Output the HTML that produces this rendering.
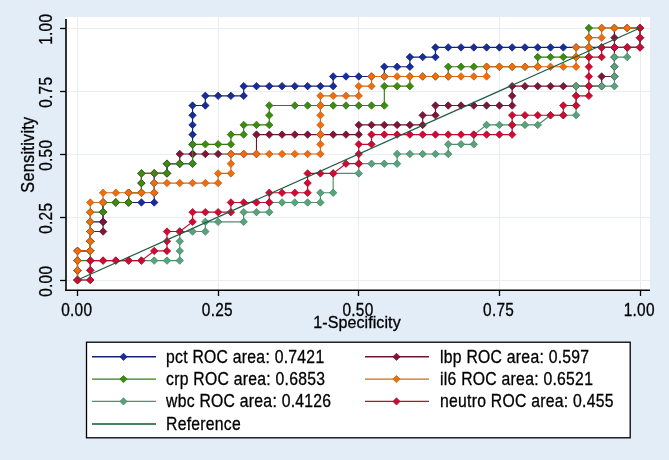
<!DOCTYPE html>
<html><head><meta charset="utf-8"><style>
html,body{margin:0;padding:0;background:#E3EDF8;}
body{width:669px;height:460px;overflow:hidden;}
svg{display:block;font-family:"Liberation Sans",sans-serif;will-change:transform;}
text{fill:#000;stroke:#000;stroke-width:0.3px;}
</style></head><body>
<svg width="669" height="460" viewBox="0 0 669 460"><rect x="0" y="0" width="669" height="460" fill="#E3EDF8"/><rect x="65.5" y="17" width="584.5" height="273.5" fill="#FFFFFF"/><line x1="65.5" y1="280.5" x2="650" y2="280.5" stroke="#E8EEF3" stroke-width="1"/><line x1="77.5" y1="17" x2="77.5" y2="290.5" stroke="#E8EEF3" stroke-width="1"/><line x1="65.5" y1="217.5" x2="650" y2="217.5" stroke="#E8EEF3" stroke-width="1"/><line x1="218.5" y1="17" x2="218.5" y2="290.5" stroke="#E8EEF3" stroke-width="1"/><line x1="65.5" y1="154.5" x2="650" y2="154.5" stroke="#E8EEF3" stroke-width="1"/><line x1="358.5" y1="17" x2="358.5" y2="290.5" stroke="#E8EEF3" stroke-width="1"/><line x1="65.5" y1="91.5" x2="650" y2="91.5" stroke="#E8EEF3" stroke-width="1"/><line x1="499.5" y1="17" x2="499.5" y2="290.5" stroke="#E8EEF3" stroke-width="1"/><line x1="65.5" y1="28.5" x2="650" y2="28.5" stroke="#E8EEF3" stroke-width="1"/><line x1="640.5" y1="17" x2="640.5" y2="290.5" stroke="#E8EEF3" stroke-width="1"/><path d="M77.50,280.00 L77.50,270.31 L77.50,260.62 L77.50,250.92 L90.28,250.92 L90.28,241.23 L90.28,231.54 L90.28,221.85 L103.07,221.85 L103.07,212.15 L103.07,202.46 L115.85,202.46 L128.64,202.46 L141.42,202.46 L154.20,202.46 L154.20,192.77 L154.20,183.08 L154.20,173.38 L166.99,173.38 L166.99,163.69 L179.77,163.69 L192.56,163.69 L192.56,154.00 L192.56,144.31 L192.56,134.62 L192.56,124.92 L192.56,115.23 L192.56,105.54 L205.34,105.54 L205.34,95.85 L218.12,95.85 L230.91,95.85 L243.69,95.85 L243.69,86.15 L256.48,86.15 L269.26,86.15 L282.05,86.15 L294.83,86.15 L307.61,86.15 L320.40,86.15 L333.18,86.15 L333.18,76.46 L345.97,76.46 L358.75,76.46 L371.53,76.46 L384.32,76.46 L384.32,66.77 L397.10,66.77 L409.89,66.77 L409.89,57.08 L422.67,57.08 L435.45,57.08 L435.45,47.38 L448.24,47.38 L461.02,47.38 L473.81,47.38 L486.59,47.38 L499.38,47.38 L512.16,47.38 L524.94,47.38 L537.73,47.38 L550.51,47.38 L563.30,47.38 L576.08,47.38 L588.86,47.38 L601.65,47.38 L614.43,47.38 L627.22,47.38 L640.00,47.38 L640.00,37.69 L640.00,28.00" fill="none" stroke="#12227A" stroke-width="1.15" stroke-linejoin="round"/><path d="M77.50,276.25l3.75,3.75l-3.75,3.75l-3.75,-3.75zM77.50,266.56l3.75,3.75l-3.75,3.75l-3.75,-3.75zM77.50,256.87l3.75,3.75l-3.75,3.75l-3.75,-3.75zM77.50,247.17l3.75,3.75l-3.75,3.75l-3.75,-3.75zM90.28,247.17l3.75,3.75l-3.75,3.75l-3.75,-3.75zM90.28,237.48l3.75,3.75l-3.75,3.75l-3.75,-3.75zM90.28,227.79l3.75,3.75l-3.75,3.75l-3.75,-3.75zM90.28,218.10l3.75,3.75l-3.75,3.75l-3.75,-3.75zM103.07,218.10l3.75,3.75l-3.75,3.75l-3.75,-3.75zM103.07,208.40l3.75,3.75l-3.75,3.75l-3.75,-3.75zM103.07,198.71l3.75,3.75l-3.75,3.75l-3.75,-3.75zM115.85,198.71l3.75,3.75l-3.75,3.75l-3.75,-3.75zM128.64,198.71l3.75,3.75l-3.75,3.75l-3.75,-3.75zM141.42,198.71l3.75,3.75l-3.75,3.75l-3.75,-3.75zM154.20,198.71l3.75,3.75l-3.75,3.75l-3.75,-3.75zM154.20,189.02l3.75,3.75l-3.75,3.75l-3.75,-3.75zM154.20,179.33l3.75,3.75l-3.75,3.75l-3.75,-3.75zM154.20,169.63l3.75,3.75l-3.75,3.75l-3.75,-3.75zM166.99,169.63l3.75,3.75l-3.75,3.75l-3.75,-3.75zM166.99,159.94l3.75,3.75l-3.75,3.75l-3.75,-3.75zM179.77,159.94l3.75,3.75l-3.75,3.75l-3.75,-3.75zM192.56,159.94l3.75,3.75l-3.75,3.75l-3.75,-3.75zM192.56,150.25l3.75,3.75l-3.75,3.75l-3.75,-3.75zM192.56,140.56l3.75,3.75l-3.75,3.75l-3.75,-3.75zM192.56,130.87l3.75,3.75l-3.75,3.75l-3.75,-3.75zM192.56,121.17l3.75,3.75l-3.75,3.75l-3.75,-3.75zM192.56,111.48l3.75,3.75l-3.75,3.75l-3.75,-3.75zM192.56,101.79l3.75,3.75l-3.75,3.75l-3.75,-3.75zM205.34,101.79l3.75,3.75l-3.75,3.75l-3.75,-3.75zM205.34,92.10l3.75,3.75l-3.75,3.75l-3.75,-3.75zM218.12,92.10l3.75,3.75l-3.75,3.75l-3.75,-3.75zM230.91,92.10l3.75,3.75l-3.75,3.75l-3.75,-3.75zM243.69,92.10l3.75,3.75l-3.75,3.75l-3.75,-3.75zM243.69,82.40l3.75,3.75l-3.75,3.75l-3.75,-3.75zM256.48,82.40l3.75,3.75l-3.75,3.75l-3.75,-3.75zM269.26,82.40l3.75,3.75l-3.75,3.75l-3.75,-3.75zM282.05,82.40l3.75,3.75l-3.75,3.75l-3.75,-3.75zM294.83,82.40l3.75,3.75l-3.75,3.75l-3.75,-3.75zM307.61,82.40l3.75,3.75l-3.75,3.75l-3.75,-3.75zM320.40,82.40l3.75,3.75l-3.75,3.75l-3.75,-3.75zM333.18,82.40l3.75,3.75l-3.75,3.75l-3.75,-3.75zM333.18,72.71l3.75,3.75l-3.75,3.75l-3.75,-3.75zM345.97,72.71l3.75,3.75l-3.75,3.75l-3.75,-3.75zM358.75,72.71l3.75,3.75l-3.75,3.75l-3.75,-3.75zM371.53,72.71l3.75,3.75l-3.75,3.75l-3.75,-3.75zM384.32,72.71l3.75,3.75l-3.75,3.75l-3.75,-3.75zM384.32,63.02l3.75,3.75l-3.75,3.75l-3.75,-3.75zM397.10,63.02l3.75,3.75l-3.75,3.75l-3.75,-3.75zM409.89,63.02l3.75,3.75l-3.75,3.75l-3.75,-3.75zM409.89,53.33l3.75,3.75l-3.75,3.75l-3.75,-3.75zM422.67,53.33l3.75,3.75l-3.75,3.75l-3.75,-3.75zM435.45,53.33l3.75,3.75l-3.75,3.75l-3.75,-3.75zM435.45,43.63l3.75,3.75l-3.75,3.75l-3.75,-3.75zM448.24,43.63l3.75,3.75l-3.75,3.75l-3.75,-3.75zM461.02,43.63l3.75,3.75l-3.75,3.75l-3.75,-3.75zM473.81,43.63l3.75,3.75l-3.75,3.75l-3.75,-3.75zM486.59,43.63l3.75,3.75l-3.75,3.75l-3.75,-3.75zM499.38,43.63l3.75,3.75l-3.75,3.75l-3.75,-3.75zM512.16,43.63l3.75,3.75l-3.75,3.75l-3.75,-3.75zM524.94,43.63l3.75,3.75l-3.75,3.75l-3.75,-3.75zM537.73,43.63l3.75,3.75l-3.75,3.75l-3.75,-3.75zM550.51,43.63l3.75,3.75l-3.75,3.75l-3.75,-3.75zM563.30,43.63l3.75,3.75l-3.75,3.75l-3.75,-3.75zM576.08,43.63l3.75,3.75l-3.75,3.75l-3.75,-3.75zM588.86,43.63l3.75,3.75l-3.75,3.75l-3.75,-3.75zM601.65,43.63l3.75,3.75l-3.75,3.75l-3.75,-3.75zM614.43,43.63l3.75,3.75l-3.75,3.75l-3.75,-3.75zM627.22,43.63l3.75,3.75l-3.75,3.75l-3.75,-3.75zM640.00,43.63l3.75,3.75l-3.75,3.75l-3.75,-3.75zM640.00,33.94l3.75,3.75l-3.75,3.75l-3.75,-3.75zM640.00,24.25l3.75,3.75l-3.75,3.75l-3.75,-3.75z" fill="#162E96" stroke="#0E1C70" stroke-width="0.7"/><path d="M77.50,280.00 L77.50,270.31 L77.50,260.62 L77.50,250.92 L90.28,250.92 L90.28,250.92 L90.28,241.23 L90.28,231.54 L103.07,231.54 L103.07,221.85 L103.07,212.15 L103.07,202.46 L115.85,202.46 L128.64,202.46 L128.64,192.77 L141.42,192.77 L141.42,183.08 L141.42,173.38 L154.20,173.38 L166.99,173.38 L166.99,163.69 L179.77,163.69 L179.77,154.00 L192.56,154.00 L205.34,154.00 L218.12,154.00 L230.91,154.00 L243.69,154.00 L256.48,154.00 L256.48,134.62 L269.26,134.62 L282.05,134.62 L294.83,134.62 L307.61,134.62 L320.40,134.62 L333.18,134.62 L345.97,134.62 L358.75,134.62 L358.75,124.92 L371.53,124.92 L384.32,124.92 L397.10,124.92 L409.89,124.92 L422.67,124.92 L422.67,115.23 L435.45,115.23 L435.45,105.54 L448.24,105.54 L461.02,105.54 L473.81,105.54 L486.59,105.54 L499.38,105.54 L512.16,105.54 L512.16,95.85 L512.16,86.15 L524.94,86.15 L537.73,86.15 L550.51,86.15 L563.30,86.15 L576.08,86.15 L588.86,86.15 L601.65,86.15 L601.65,76.46 L614.43,76.46 L614.43,66.77 L614.43,57.08 L614.43,47.38 L614.43,37.69 L614.43,28.00 L627.22,28.00 L640.00,28.00" fill="none" stroke="#701434" stroke-width="1.15" stroke-linejoin="round"/><path d="M77.50,276.25l3.75,3.75l-3.75,3.75l-3.75,-3.75zM77.50,266.56l3.75,3.75l-3.75,3.75l-3.75,-3.75zM77.50,256.87l3.75,3.75l-3.75,3.75l-3.75,-3.75zM77.50,247.17l3.75,3.75l-3.75,3.75l-3.75,-3.75zM90.28,247.17l3.75,3.75l-3.75,3.75l-3.75,-3.75zM90.28,247.17l3.75,3.75l-3.75,3.75l-3.75,-3.75zM90.28,237.48l3.75,3.75l-3.75,3.75l-3.75,-3.75zM90.28,227.79l3.75,3.75l-3.75,3.75l-3.75,-3.75zM103.07,227.79l3.75,3.75l-3.75,3.75l-3.75,-3.75zM103.07,218.10l3.75,3.75l-3.75,3.75l-3.75,-3.75zM103.07,208.40l3.75,3.75l-3.75,3.75l-3.75,-3.75zM103.07,198.71l3.75,3.75l-3.75,3.75l-3.75,-3.75zM115.85,198.71l3.75,3.75l-3.75,3.75l-3.75,-3.75zM128.64,198.71l3.75,3.75l-3.75,3.75l-3.75,-3.75zM128.64,189.02l3.75,3.75l-3.75,3.75l-3.75,-3.75zM141.42,189.02l3.75,3.75l-3.75,3.75l-3.75,-3.75zM141.42,179.33l3.75,3.75l-3.75,3.75l-3.75,-3.75zM141.42,169.63l3.75,3.75l-3.75,3.75l-3.75,-3.75zM154.20,169.63l3.75,3.75l-3.75,3.75l-3.75,-3.75zM166.99,169.63l3.75,3.75l-3.75,3.75l-3.75,-3.75zM166.99,159.94l3.75,3.75l-3.75,3.75l-3.75,-3.75zM179.77,159.94l3.75,3.75l-3.75,3.75l-3.75,-3.75zM179.77,150.25l3.75,3.75l-3.75,3.75l-3.75,-3.75zM192.56,150.25l3.75,3.75l-3.75,3.75l-3.75,-3.75zM205.34,150.25l3.75,3.75l-3.75,3.75l-3.75,-3.75zM218.12,150.25l3.75,3.75l-3.75,3.75l-3.75,-3.75zM230.91,150.25l3.75,3.75l-3.75,3.75l-3.75,-3.75zM243.69,150.25l3.75,3.75l-3.75,3.75l-3.75,-3.75zM256.48,150.25l3.75,3.75l-3.75,3.75l-3.75,-3.75zM256.48,130.87l3.75,3.75l-3.75,3.75l-3.75,-3.75zM269.26,130.87l3.75,3.75l-3.75,3.75l-3.75,-3.75zM282.05,130.87l3.75,3.75l-3.75,3.75l-3.75,-3.75zM294.83,130.87l3.75,3.75l-3.75,3.75l-3.75,-3.75zM307.61,130.87l3.75,3.75l-3.75,3.75l-3.75,-3.75zM320.40,130.87l3.75,3.75l-3.75,3.75l-3.75,-3.75zM333.18,130.87l3.75,3.75l-3.75,3.75l-3.75,-3.75zM345.97,130.87l3.75,3.75l-3.75,3.75l-3.75,-3.75zM358.75,130.87l3.75,3.75l-3.75,3.75l-3.75,-3.75zM358.75,121.17l3.75,3.75l-3.75,3.75l-3.75,-3.75zM371.53,121.17l3.75,3.75l-3.75,3.75l-3.75,-3.75zM384.32,121.17l3.75,3.75l-3.75,3.75l-3.75,-3.75zM397.10,121.17l3.75,3.75l-3.75,3.75l-3.75,-3.75zM409.89,121.17l3.75,3.75l-3.75,3.75l-3.75,-3.75zM422.67,121.17l3.75,3.75l-3.75,3.75l-3.75,-3.75zM422.67,111.48l3.75,3.75l-3.75,3.75l-3.75,-3.75zM435.45,111.48l3.75,3.75l-3.75,3.75l-3.75,-3.75zM435.45,101.79l3.75,3.75l-3.75,3.75l-3.75,-3.75zM448.24,101.79l3.75,3.75l-3.75,3.75l-3.75,-3.75zM461.02,101.79l3.75,3.75l-3.75,3.75l-3.75,-3.75zM473.81,101.79l3.75,3.75l-3.75,3.75l-3.75,-3.75zM486.59,101.79l3.75,3.75l-3.75,3.75l-3.75,-3.75zM499.38,101.79l3.75,3.75l-3.75,3.75l-3.75,-3.75zM512.16,101.79l3.75,3.75l-3.75,3.75l-3.75,-3.75zM512.16,92.10l3.75,3.75l-3.75,3.75l-3.75,-3.75zM512.16,82.40l3.75,3.75l-3.75,3.75l-3.75,-3.75zM524.94,82.40l3.75,3.75l-3.75,3.75l-3.75,-3.75zM537.73,82.40l3.75,3.75l-3.75,3.75l-3.75,-3.75zM550.51,82.40l3.75,3.75l-3.75,3.75l-3.75,-3.75zM563.30,82.40l3.75,3.75l-3.75,3.75l-3.75,-3.75zM576.08,82.40l3.75,3.75l-3.75,3.75l-3.75,-3.75zM588.86,82.40l3.75,3.75l-3.75,3.75l-3.75,-3.75zM601.65,82.40l3.75,3.75l-3.75,3.75l-3.75,-3.75zM601.65,72.71l3.75,3.75l-3.75,3.75l-3.75,-3.75zM614.43,72.71l3.75,3.75l-3.75,3.75l-3.75,-3.75zM614.43,63.02l3.75,3.75l-3.75,3.75l-3.75,-3.75zM614.43,53.33l3.75,3.75l-3.75,3.75l-3.75,-3.75zM614.43,43.63l3.75,3.75l-3.75,3.75l-3.75,-3.75zM614.43,33.94l3.75,3.75l-3.75,3.75l-3.75,-3.75zM614.43,24.25l3.75,3.75l-3.75,3.75l-3.75,-3.75zM627.22,24.25l3.75,3.75l-3.75,3.75l-3.75,-3.75zM640.00,24.25l3.75,3.75l-3.75,3.75l-3.75,-3.75z" fill="#7E1638" stroke="#62102C" stroke-width="0.7"/><path d="M77.50,280.00 L77.50,270.31 L77.50,260.62 L90.28,260.62 L90.28,250.92 L90.28,241.23 L90.28,231.54 L90.28,221.85 L90.28,212.15 L103.07,212.15 L103.07,202.46 L115.85,202.46 L128.64,202.46 L128.64,192.77 L141.42,192.77 L141.42,183.08 L141.42,173.38 L154.20,173.38 L166.99,173.38 L166.99,163.69 L179.77,163.69 L192.56,163.69 L192.56,144.31 L205.34,144.31 L218.12,144.31 L230.91,144.31 L230.91,134.62 L243.69,134.62 L243.69,124.92 L256.48,124.92 L269.26,124.92 L269.26,115.23 L269.26,105.54 L294.83,105.54 L307.61,105.54 L320.40,105.54 L333.18,105.54 L345.97,105.54 L358.75,105.54 L371.53,105.54 L384.32,105.54 L384.32,86.15 L397.10,86.15 L409.89,86.15 L409.89,76.46 L422.67,76.46 L435.45,76.46 L448.24,76.46 L448.24,66.77 L461.02,66.77 L473.81,66.77 L486.59,66.77 L499.38,66.77 L512.16,66.77 L524.94,66.77 L537.73,66.77 L537.73,57.08 L550.51,57.08 L563.30,57.08 L576.08,57.08 L588.86,57.08 L588.86,47.38 L588.86,37.69 L588.86,28.00 L601.65,28.00 L614.43,28.00 L627.22,28.00 L640.00,28.00" fill="none" stroke="#367C12" stroke-width="1.15" stroke-linejoin="round"/><path d="M77.50,276.25l3.75,3.75l-3.75,3.75l-3.75,-3.75zM77.50,266.56l3.75,3.75l-3.75,3.75l-3.75,-3.75zM77.50,256.87l3.75,3.75l-3.75,3.75l-3.75,-3.75zM90.28,256.87l3.75,3.75l-3.75,3.75l-3.75,-3.75zM90.28,247.17l3.75,3.75l-3.75,3.75l-3.75,-3.75zM90.28,237.48l3.75,3.75l-3.75,3.75l-3.75,-3.75zM90.28,227.79l3.75,3.75l-3.75,3.75l-3.75,-3.75zM90.28,218.10l3.75,3.75l-3.75,3.75l-3.75,-3.75zM90.28,208.40l3.75,3.75l-3.75,3.75l-3.75,-3.75zM103.07,208.40l3.75,3.75l-3.75,3.75l-3.75,-3.75zM103.07,198.71l3.75,3.75l-3.75,3.75l-3.75,-3.75zM115.85,198.71l3.75,3.75l-3.75,3.75l-3.75,-3.75zM128.64,198.71l3.75,3.75l-3.75,3.75l-3.75,-3.75zM128.64,189.02l3.75,3.75l-3.75,3.75l-3.75,-3.75zM141.42,189.02l3.75,3.75l-3.75,3.75l-3.75,-3.75zM141.42,179.33l3.75,3.75l-3.75,3.75l-3.75,-3.75zM141.42,169.63l3.75,3.75l-3.75,3.75l-3.75,-3.75zM154.20,169.63l3.75,3.75l-3.75,3.75l-3.75,-3.75zM166.99,169.63l3.75,3.75l-3.75,3.75l-3.75,-3.75zM166.99,159.94l3.75,3.75l-3.75,3.75l-3.75,-3.75zM179.77,159.94l3.75,3.75l-3.75,3.75l-3.75,-3.75zM192.56,159.94l3.75,3.75l-3.75,3.75l-3.75,-3.75zM192.56,140.56l3.75,3.75l-3.75,3.75l-3.75,-3.75zM205.34,140.56l3.75,3.75l-3.75,3.75l-3.75,-3.75zM218.12,140.56l3.75,3.75l-3.75,3.75l-3.75,-3.75zM230.91,140.56l3.75,3.75l-3.75,3.75l-3.75,-3.75zM230.91,130.87l3.75,3.75l-3.75,3.75l-3.75,-3.75zM243.69,130.87l3.75,3.75l-3.75,3.75l-3.75,-3.75zM243.69,121.17l3.75,3.75l-3.75,3.75l-3.75,-3.75zM256.48,121.17l3.75,3.75l-3.75,3.75l-3.75,-3.75zM269.26,121.17l3.75,3.75l-3.75,3.75l-3.75,-3.75zM269.26,111.48l3.75,3.75l-3.75,3.75l-3.75,-3.75zM269.26,101.79l3.75,3.75l-3.75,3.75l-3.75,-3.75zM294.83,101.79l3.75,3.75l-3.75,3.75l-3.75,-3.75zM307.61,101.79l3.75,3.75l-3.75,3.75l-3.75,-3.75zM320.40,101.79l3.75,3.75l-3.75,3.75l-3.75,-3.75zM333.18,101.79l3.75,3.75l-3.75,3.75l-3.75,-3.75zM345.97,101.79l3.75,3.75l-3.75,3.75l-3.75,-3.75zM358.75,101.79l3.75,3.75l-3.75,3.75l-3.75,-3.75zM371.53,101.79l3.75,3.75l-3.75,3.75l-3.75,-3.75zM384.32,101.79l3.75,3.75l-3.75,3.75l-3.75,-3.75zM384.32,82.40l3.75,3.75l-3.75,3.75l-3.75,-3.75zM397.10,82.40l3.75,3.75l-3.75,3.75l-3.75,-3.75zM409.89,82.40l3.75,3.75l-3.75,3.75l-3.75,-3.75zM409.89,72.71l3.75,3.75l-3.75,3.75l-3.75,-3.75zM422.67,72.71l3.75,3.75l-3.75,3.75l-3.75,-3.75zM435.45,72.71l3.75,3.75l-3.75,3.75l-3.75,-3.75zM448.24,72.71l3.75,3.75l-3.75,3.75l-3.75,-3.75zM448.24,63.02l3.75,3.75l-3.75,3.75l-3.75,-3.75zM461.02,63.02l3.75,3.75l-3.75,3.75l-3.75,-3.75zM473.81,63.02l3.75,3.75l-3.75,3.75l-3.75,-3.75zM486.59,63.02l3.75,3.75l-3.75,3.75l-3.75,-3.75zM499.38,63.02l3.75,3.75l-3.75,3.75l-3.75,-3.75zM512.16,63.02l3.75,3.75l-3.75,3.75l-3.75,-3.75zM524.94,63.02l3.75,3.75l-3.75,3.75l-3.75,-3.75zM537.73,63.02l3.75,3.75l-3.75,3.75l-3.75,-3.75zM537.73,53.33l3.75,3.75l-3.75,3.75l-3.75,-3.75zM550.51,53.33l3.75,3.75l-3.75,3.75l-3.75,-3.75zM563.30,53.33l3.75,3.75l-3.75,3.75l-3.75,-3.75zM576.08,53.33l3.75,3.75l-3.75,3.75l-3.75,-3.75zM588.86,53.33l3.75,3.75l-3.75,3.75l-3.75,-3.75zM588.86,43.63l3.75,3.75l-3.75,3.75l-3.75,-3.75zM588.86,33.94l3.75,3.75l-3.75,3.75l-3.75,-3.75zM588.86,24.25l3.75,3.75l-3.75,3.75l-3.75,-3.75zM601.65,24.25l3.75,3.75l-3.75,3.75l-3.75,-3.75zM614.43,24.25l3.75,3.75l-3.75,3.75l-3.75,-3.75zM627.22,24.25l3.75,3.75l-3.75,3.75l-3.75,-3.75zM640.00,24.25l3.75,3.75l-3.75,3.75l-3.75,-3.75z" fill="#3C8C10" stroke="#2E6C0E" stroke-width="0.7"/><path d="M77.50,280.00 L77.50,270.31 L77.50,260.62 L77.50,250.92 L90.28,250.92 L90.28,241.23 L90.28,231.54 L90.28,221.85 L90.28,212.15 L90.28,202.46 L103.07,202.46 L103.07,192.77 L115.85,192.77 L128.64,192.77 L141.42,192.77 L154.20,192.77 L154.20,183.08 L166.99,183.08 L179.77,183.08 L192.56,183.08 L205.34,183.08 L218.12,183.08 L218.12,173.38 L230.91,173.38 L230.91,163.69 L230.91,154.00 L243.69,154.00 L256.48,154.00 L269.26,154.00 L282.05,154.00 L294.83,154.00 L307.61,154.00 L320.40,154.00 L320.40,144.31 L320.40,134.62 L320.40,124.92 L320.40,115.23 L320.40,105.54 L320.40,95.85 L333.18,95.85 L345.97,95.85 L358.75,95.85 L358.75,86.15 L371.53,86.15 L371.53,76.46 L384.32,76.46 L397.10,76.46 L409.89,76.46 L422.67,76.46 L435.45,76.46 L448.24,76.46 L461.02,76.46 L473.81,76.46 L486.59,76.46 L486.59,66.77 L499.38,66.77 L512.16,66.77 L524.94,66.77 L537.73,66.77 L550.51,66.77 L563.30,66.77 L576.08,66.77 L576.08,57.08 L576.08,47.38 L588.86,47.38 L588.86,37.69 L601.65,37.69 L601.65,28.00 L614.43,28.00 L627.22,28.00 L640.00,28.00" fill="none" stroke="#D86614" stroke-width="1.15" stroke-linejoin="round"/><path d="M77.50,276.25l3.75,3.75l-3.75,3.75l-3.75,-3.75zM77.50,266.56l3.75,3.75l-3.75,3.75l-3.75,-3.75zM77.50,256.87l3.75,3.75l-3.75,3.75l-3.75,-3.75zM77.50,247.17l3.75,3.75l-3.75,3.75l-3.75,-3.75zM90.28,247.17l3.75,3.75l-3.75,3.75l-3.75,-3.75zM90.28,237.48l3.75,3.75l-3.75,3.75l-3.75,-3.75zM90.28,227.79l3.75,3.75l-3.75,3.75l-3.75,-3.75zM90.28,218.10l3.75,3.75l-3.75,3.75l-3.75,-3.75zM90.28,208.40l3.75,3.75l-3.75,3.75l-3.75,-3.75zM90.28,198.71l3.75,3.75l-3.75,3.75l-3.75,-3.75zM103.07,198.71l3.75,3.75l-3.75,3.75l-3.75,-3.75zM103.07,189.02l3.75,3.75l-3.75,3.75l-3.75,-3.75zM115.85,189.02l3.75,3.75l-3.75,3.75l-3.75,-3.75zM128.64,189.02l3.75,3.75l-3.75,3.75l-3.75,-3.75zM141.42,189.02l3.75,3.75l-3.75,3.75l-3.75,-3.75zM154.20,189.02l3.75,3.75l-3.75,3.75l-3.75,-3.75zM154.20,179.33l3.75,3.75l-3.75,3.75l-3.75,-3.75zM166.99,179.33l3.75,3.75l-3.75,3.75l-3.75,-3.75zM179.77,179.33l3.75,3.75l-3.75,3.75l-3.75,-3.75zM192.56,179.33l3.75,3.75l-3.75,3.75l-3.75,-3.75zM205.34,179.33l3.75,3.75l-3.75,3.75l-3.75,-3.75zM218.12,179.33l3.75,3.75l-3.75,3.75l-3.75,-3.75zM218.12,169.63l3.75,3.75l-3.75,3.75l-3.75,-3.75zM230.91,169.63l3.75,3.75l-3.75,3.75l-3.75,-3.75zM230.91,159.94l3.75,3.75l-3.75,3.75l-3.75,-3.75zM230.91,150.25l3.75,3.75l-3.75,3.75l-3.75,-3.75zM243.69,150.25l3.75,3.75l-3.75,3.75l-3.75,-3.75zM256.48,150.25l3.75,3.75l-3.75,3.75l-3.75,-3.75zM269.26,150.25l3.75,3.75l-3.75,3.75l-3.75,-3.75zM282.05,150.25l3.75,3.75l-3.75,3.75l-3.75,-3.75zM294.83,150.25l3.75,3.75l-3.75,3.75l-3.75,-3.75zM307.61,150.25l3.75,3.75l-3.75,3.75l-3.75,-3.75zM320.40,150.25l3.75,3.75l-3.75,3.75l-3.75,-3.75zM320.40,140.56l3.75,3.75l-3.75,3.75l-3.75,-3.75zM320.40,130.87l3.75,3.75l-3.75,3.75l-3.75,-3.75zM320.40,121.17l3.75,3.75l-3.75,3.75l-3.75,-3.75zM320.40,111.48l3.75,3.75l-3.75,3.75l-3.75,-3.75zM320.40,101.79l3.75,3.75l-3.75,3.75l-3.75,-3.75zM320.40,92.10l3.75,3.75l-3.75,3.75l-3.75,-3.75zM333.18,92.10l3.75,3.75l-3.75,3.75l-3.75,-3.75zM345.97,92.10l3.75,3.75l-3.75,3.75l-3.75,-3.75zM358.75,92.10l3.75,3.75l-3.75,3.75l-3.75,-3.75zM358.75,82.40l3.75,3.75l-3.75,3.75l-3.75,-3.75zM371.53,82.40l3.75,3.75l-3.75,3.75l-3.75,-3.75zM371.53,72.71l3.75,3.75l-3.75,3.75l-3.75,-3.75zM384.32,72.71l3.75,3.75l-3.75,3.75l-3.75,-3.75zM397.10,72.71l3.75,3.75l-3.75,3.75l-3.75,-3.75zM409.89,72.71l3.75,3.75l-3.75,3.75l-3.75,-3.75zM422.67,72.71l3.75,3.75l-3.75,3.75l-3.75,-3.75zM435.45,72.71l3.75,3.75l-3.75,3.75l-3.75,-3.75zM448.24,72.71l3.75,3.75l-3.75,3.75l-3.75,-3.75zM461.02,72.71l3.75,3.75l-3.75,3.75l-3.75,-3.75zM473.81,72.71l3.75,3.75l-3.75,3.75l-3.75,-3.75zM486.59,72.71l3.75,3.75l-3.75,3.75l-3.75,-3.75zM486.59,63.02l3.75,3.75l-3.75,3.75l-3.75,-3.75zM499.38,63.02l3.75,3.75l-3.75,3.75l-3.75,-3.75zM512.16,63.02l3.75,3.75l-3.75,3.75l-3.75,-3.75zM524.94,63.02l3.75,3.75l-3.75,3.75l-3.75,-3.75zM537.73,63.02l3.75,3.75l-3.75,3.75l-3.75,-3.75zM550.51,63.02l3.75,3.75l-3.75,3.75l-3.75,-3.75zM563.30,63.02l3.75,3.75l-3.75,3.75l-3.75,-3.75zM576.08,63.02l3.75,3.75l-3.75,3.75l-3.75,-3.75zM576.08,53.33l3.75,3.75l-3.75,3.75l-3.75,-3.75zM576.08,43.63l3.75,3.75l-3.75,3.75l-3.75,-3.75zM588.86,43.63l3.75,3.75l-3.75,3.75l-3.75,-3.75zM588.86,33.94l3.75,3.75l-3.75,3.75l-3.75,-3.75zM601.65,33.94l3.75,3.75l-3.75,3.75l-3.75,-3.75zM601.65,24.25l3.75,3.75l-3.75,3.75l-3.75,-3.75zM614.43,24.25l3.75,3.75l-3.75,3.75l-3.75,-3.75zM627.22,24.25l3.75,3.75l-3.75,3.75l-3.75,-3.75zM640.00,24.25l3.75,3.75l-3.75,3.75l-3.75,-3.75z" fill="#EE6E0E" stroke="#C85A12" stroke-width="0.7"/><path d="M77.50,280.00 L90.28,280.00 L90.28,270.31 L90.28,260.62 L103.07,260.62 L115.85,260.62 L128.64,260.62 L141.42,260.62 L154.20,260.62 L166.99,260.62 L179.77,260.62 L179.77,250.92 L179.77,241.23 L179.77,231.54 L192.56,231.54 L205.34,231.54 L205.34,221.85 L218.12,221.85 L243.69,221.85 L243.69,212.15 L256.48,212.15 L269.26,212.15 L269.26,202.46 L282.05,202.46 L294.83,202.46 L307.61,202.46 L320.40,202.46 L320.40,192.77 L333.18,192.77 L333.18,173.38 L358.75,173.38 L358.75,163.69 L371.53,163.69 L384.32,163.69 L397.10,163.69 L397.10,154.00 L409.89,154.00 L422.67,154.00 L435.45,154.00 L448.24,154.00 L448.24,144.31 L461.02,144.31 L473.81,144.31 L473.81,134.62 L486.59,124.92 L499.38,124.92 L512.16,124.92 L524.94,124.92 L537.73,124.92 L550.51,115.23 L563.30,115.23 L576.08,115.23 L576.08,105.54 L576.08,95.85 L576.08,86.15 L588.86,86.15 L601.65,86.15 L614.43,86.15 L614.43,76.46 L614.43,66.77 L614.43,57.08 L627.22,57.08 L627.22,47.38 L640.00,47.38 L640.00,37.69 L640.00,28.00" fill="none" stroke="#4C9070" stroke-width="1.15" stroke-linejoin="round"/><path d="M77.50,276.25l3.75,3.75l-3.75,3.75l-3.75,-3.75zM90.28,276.25l3.75,3.75l-3.75,3.75l-3.75,-3.75zM90.28,266.56l3.75,3.75l-3.75,3.75l-3.75,-3.75zM90.28,256.87l3.75,3.75l-3.75,3.75l-3.75,-3.75zM103.07,256.87l3.75,3.75l-3.75,3.75l-3.75,-3.75zM115.85,256.87l3.75,3.75l-3.75,3.75l-3.75,-3.75zM128.64,256.87l3.75,3.75l-3.75,3.75l-3.75,-3.75zM141.42,256.87l3.75,3.75l-3.75,3.75l-3.75,-3.75zM154.20,256.87l3.75,3.75l-3.75,3.75l-3.75,-3.75zM166.99,256.87l3.75,3.75l-3.75,3.75l-3.75,-3.75zM179.77,256.87l3.75,3.75l-3.75,3.75l-3.75,-3.75zM179.77,247.17l3.75,3.75l-3.75,3.75l-3.75,-3.75zM179.77,237.48l3.75,3.75l-3.75,3.75l-3.75,-3.75zM179.77,227.79l3.75,3.75l-3.75,3.75l-3.75,-3.75zM192.56,227.79l3.75,3.75l-3.75,3.75l-3.75,-3.75zM205.34,227.79l3.75,3.75l-3.75,3.75l-3.75,-3.75zM205.34,218.10l3.75,3.75l-3.75,3.75l-3.75,-3.75zM218.12,218.10l3.75,3.75l-3.75,3.75l-3.75,-3.75zM243.69,218.10l3.75,3.75l-3.75,3.75l-3.75,-3.75zM243.69,208.40l3.75,3.75l-3.75,3.75l-3.75,-3.75zM256.48,208.40l3.75,3.75l-3.75,3.75l-3.75,-3.75zM269.26,208.40l3.75,3.75l-3.75,3.75l-3.75,-3.75zM269.26,198.71l3.75,3.75l-3.75,3.75l-3.75,-3.75zM282.05,198.71l3.75,3.75l-3.75,3.75l-3.75,-3.75zM294.83,198.71l3.75,3.75l-3.75,3.75l-3.75,-3.75zM307.61,198.71l3.75,3.75l-3.75,3.75l-3.75,-3.75zM320.40,198.71l3.75,3.75l-3.75,3.75l-3.75,-3.75zM320.40,189.02l3.75,3.75l-3.75,3.75l-3.75,-3.75zM333.18,189.02l3.75,3.75l-3.75,3.75l-3.75,-3.75zM333.18,169.63l3.75,3.75l-3.75,3.75l-3.75,-3.75zM358.75,169.63l3.75,3.75l-3.75,3.75l-3.75,-3.75zM358.75,159.94l3.75,3.75l-3.75,3.75l-3.75,-3.75zM371.53,159.94l3.75,3.75l-3.75,3.75l-3.75,-3.75zM384.32,159.94l3.75,3.75l-3.75,3.75l-3.75,-3.75zM397.10,159.94l3.75,3.75l-3.75,3.75l-3.75,-3.75zM397.10,150.25l3.75,3.75l-3.75,3.75l-3.75,-3.75zM409.89,150.25l3.75,3.75l-3.75,3.75l-3.75,-3.75zM422.67,150.25l3.75,3.75l-3.75,3.75l-3.75,-3.75zM435.45,150.25l3.75,3.75l-3.75,3.75l-3.75,-3.75zM448.24,150.25l3.75,3.75l-3.75,3.75l-3.75,-3.75zM448.24,140.56l3.75,3.75l-3.75,3.75l-3.75,-3.75zM461.02,140.56l3.75,3.75l-3.75,3.75l-3.75,-3.75zM473.81,140.56l3.75,3.75l-3.75,3.75l-3.75,-3.75zM473.81,130.87l3.75,3.75l-3.75,3.75l-3.75,-3.75zM486.59,121.17l3.75,3.75l-3.75,3.75l-3.75,-3.75zM499.38,121.17l3.75,3.75l-3.75,3.75l-3.75,-3.75zM512.16,121.17l3.75,3.75l-3.75,3.75l-3.75,-3.75zM524.94,121.17l3.75,3.75l-3.75,3.75l-3.75,-3.75zM537.73,121.17l3.75,3.75l-3.75,3.75l-3.75,-3.75zM550.51,111.48l3.75,3.75l-3.75,3.75l-3.75,-3.75zM563.30,111.48l3.75,3.75l-3.75,3.75l-3.75,-3.75zM576.08,111.48l3.75,3.75l-3.75,3.75l-3.75,-3.75zM576.08,101.79l3.75,3.75l-3.75,3.75l-3.75,-3.75zM576.08,92.10l3.75,3.75l-3.75,3.75l-3.75,-3.75zM576.08,82.40l3.75,3.75l-3.75,3.75l-3.75,-3.75zM588.86,82.40l3.75,3.75l-3.75,3.75l-3.75,-3.75zM601.65,82.40l3.75,3.75l-3.75,3.75l-3.75,-3.75zM614.43,82.40l3.75,3.75l-3.75,3.75l-3.75,-3.75zM614.43,72.71l3.75,3.75l-3.75,3.75l-3.75,-3.75zM614.43,63.02l3.75,3.75l-3.75,3.75l-3.75,-3.75zM614.43,53.33l3.75,3.75l-3.75,3.75l-3.75,-3.75zM627.22,53.33l3.75,3.75l-3.75,3.75l-3.75,-3.75zM627.22,43.63l3.75,3.75l-3.75,3.75l-3.75,-3.75zM640.00,43.63l3.75,3.75l-3.75,3.75l-3.75,-3.75zM640.00,33.94l3.75,3.75l-3.75,3.75l-3.75,-3.75zM640.00,24.25l3.75,3.75l-3.75,3.75l-3.75,-3.75z" fill="#5AA27C" stroke="#3E8262" stroke-width="0.7"/><path d="M77.50,280.00 L90.28,280.00 L90.28,270.31 L90.28,260.62 L103.07,260.62 L115.85,260.62 L128.64,260.62 L141.42,260.62 L154.20,250.92 L166.99,250.92 L166.99,241.23 L166.99,231.54 L179.77,231.54 L192.56,221.85 L192.56,212.15 L205.34,212.15 L218.12,212.15 L230.91,212.15 L230.91,202.46 L243.69,202.46 L256.48,202.46 L269.26,202.46 L269.26,192.77 L282.05,192.77 L294.83,192.77 L307.61,192.77 L307.61,183.08 L307.61,173.38 L320.40,173.38 L333.18,173.38 L345.97,163.69 L358.75,163.69 L358.75,154.00 L358.75,144.31 L371.53,144.31 L371.53,134.62 L384.32,134.62 L397.10,134.62 L409.89,134.62 L422.67,134.62 L435.45,134.62 L448.24,134.62 L461.02,134.62 L473.81,134.62 L486.59,134.62 L499.38,134.62 L512.16,134.62 L512.16,124.92 L512.16,115.23 L524.94,115.23 L537.73,115.23 L550.51,115.23 L563.30,115.23 L563.30,105.54 L576.08,105.54 L576.08,95.85 L588.86,95.85 L588.86,86.15 L588.86,76.46 L588.86,66.77 L588.86,57.08 L601.65,57.08 L601.65,47.38 L614.43,47.38 L627.22,47.38 L640.00,47.38 L640.00,37.69 L640.00,28.00" fill="none" stroke="#BC0C30" stroke-width="1.15" stroke-linejoin="round"/><path d="M77.50,276.25l3.75,3.75l-3.75,3.75l-3.75,-3.75zM90.28,276.25l3.75,3.75l-3.75,3.75l-3.75,-3.75zM90.28,266.56l3.75,3.75l-3.75,3.75l-3.75,-3.75zM90.28,256.87l3.75,3.75l-3.75,3.75l-3.75,-3.75zM103.07,256.87l3.75,3.75l-3.75,3.75l-3.75,-3.75zM115.85,256.87l3.75,3.75l-3.75,3.75l-3.75,-3.75zM128.64,256.87l3.75,3.75l-3.75,3.75l-3.75,-3.75zM141.42,256.87l3.75,3.75l-3.75,3.75l-3.75,-3.75zM154.20,247.17l3.75,3.75l-3.75,3.75l-3.75,-3.75zM166.99,247.17l3.75,3.75l-3.75,3.75l-3.75,-3.75zM166.99,237.48l3.75,3.75l-3.75,3.75l-3.75,-3.75zM166.99,227.79l3.75,3.75l-3.75,3.75l-3.75,-3.75zM179.77,227.79l3.75,3.75l-3.75,3.75l-3.75,-3.75zM192.56,218.10l3.75,3.75l-3.75,3.75l-3.75,-3.75zM192.56,208.40l3.75,3.75l-3.75,3.75l-3.75,-3.75zM205.34,208.40l3.75,3.75l-3.75,3.75l-3.75,-3.75zM218.12,208.40l3.75,3.75l-3.75,3.75l-3.75,-3.75zM230.91,208.40l3.75,3.75l-3.75,3.75l-3.75,-3.75zM230.91,198.71l3.75,3.75l-3.75,3.75l-3.75,-3.75zM243.69,198.71l3.75,3.75l-3.75,3.75l-3.75,-3.75zM256.48,198.71l3.75,3.75l-3.75,3.75l-3.75,-3.75zM269.26,198.71l3.75,3.75l-3.75,3.75l-3.75,-3.75zM269.26,189.02l3.75,3.75l-3.75,3.75l-3.75,-3.75zM282.05,189.02l3.75,3.75l-3.75,3.75l-3.75,-3.75zM294.83,189.02l3.75,3.75l-3.75,3.75l-3.75,-3.75zM307.61,189.02l3.75,3.75l-3.75,3.75l-3.75,-3.75zM307.61,179.33l3.75,3.75l-3.75,3.75l-3.75,-3.75zM307.61,169.63l3.75,3.75l-3.75,3.75l-3.75,-3.75zM320.40,169.63l3.75,3.75l-3.75,3.75l-3.75,-3.75zM333.18,169.63l3.75,3.75l-3.75,3.75l-3.75,-3.75zM345.97,159.94l3.75,3.75l-3.75,3.75l-3.75,-3.75zM358.75,159.94l3.75,3.75l-3.75,3.75l-3.75,-3.75zM358.75,150.25l3.75,3.75l-3.75,3.75l-3.75,-3.75zM358.75,140.56l3.75,3.75l-3.75,3.75l-3.75,-3.75zM371.53,140.56l3.75,3.75l-3.75,3.75l-3.75,-3.75zM371.53,130.87l3.75,3.75l-3.75,3.75l-3.75,-3.75zM384.32,130.87l3.75,3.75l-3.75,3.75l-3.75,-3.75zM397.10,130.87l3.75,3.75l-3.75,3.75l-3.75,-3.75zM409.89,130.87l3.75,3.75l-3.75,3.75l-3.75,-3.75zM422.67,130.87l3.75,3.75l-3.75,3.75l-3.75,-3.75zM435.45,130.87l3.75,3.75l-3.75,3.75l-3.75,-3.75zM448.24,130.87l3.75,3.75l-3.75,3.75l-3.75,-3.75zM461.02,130.87l3.75,3.75l-3.75,3.75l-3.75,-3.75zM473.81,130.87l3.75,3.75l-3.75,3.75l-3.75,-3.75zM486.59,130.87l3.75,3.75l-3.75,3.75l-3.75,-3.75zM499.38,130.87l3.75,3.75l-3.75,3.75l-3.75,-3.75zM512.16,130.87l3.75,3.75l-3.75,3.75l-3.75,-3.75zM512.16,121.17l3.75,3.75l-3.75,3.75l-3.75,-3.75zM512.16,111.48l3.75,3.75l-3.75,3.75l-3.75,-3.75zM524.94,111.48l3.75,3.75l-3.75,3.75l-3.75,-3.75zM537.73,111.48l3.75,3.75l-3.75,3.75l-3.75,-3.75zM550.51,111.48l3.75,3.75l-3.75,3.75l-3.75,-3.75zM563.30,111.48l3.75,3.75l-3.75,3.75l-3.75,-3.75zM563.30,101.79l3.75,3.75l-3.75,3.75l-3.75,-3.75zM576.08,101.79l3.75,3.75l-3.75,3.75l-3.75,-3.75zM576.08,92.10l3.75,3.75l-3.75,3.75l-3.75,-3.75zM588.86,92.10l3.75,3.75l-3.75,3.75l-3.75,-3.75zM588.86,82.40l3.75,3.75l-3.75,3.75l-3.75,-3.75zM588.86,72.71l3.75,3.75l-3.75,3.75l-3.75,-3.75zM588.86,63.02l3.75,3.75l-3.75,3.75l-3.75,-3.75zM588.86,53.33l3.75,3.75l-3.75,3.75l-3.75,-3.75zM601.65,53.33l3.75,3.75l-3.75,3.75l-3.75,-3.75zM601.65,43.63l3.75,3.75l-3.75,3.75l-3.75,-3.75zM614.43,43.63l3.75,3.75l-3.75,3.75l-3.75,-3.75zM627.22,43.63l3.75,3.75l-3.75,3.75l-3.75,-3.75zM640.00,43.63l3.75,3.75l-3.75,3.75l-3.75,-3.75zM640.00,33.94l3.75,3.75l-3.75,3.75l-3.75,-3.75zM640.00,24.25l3.75,3.75l-3.75,3.75l-3.75,-3.75z" fill="#D00A34" stroke="#A80A2A" stroke-width="0.7"/><line x1="77.5" y1="280.0" x2="640.0" y2="28.0" stroke="#1E5C42" stroke-width="1.2"/><line x1="66" y1="19" x2="66" y2="291" stroke="#000" stroke-width="1.6"/><line x1="65.2" y1="290.2" x2="650" y2="290.2" stroke="#000" stroke-width="1.6"/><line x1="60" y1="280.5" x2="66" y2="280.5" stroke="#000" stroke-width="1.3"/><line x1="77.5" y1="290" x2="77.5" y2="296" stroke="#000" stroke-width="1.3"/><line x1="60" y1="217.5" x2="66" y2="217.5" stroke="#000" stroke-width="1.3"/><line x1="218.5" y1="290" x2="218.5" y2="296" stroke="#000" stroke-width="1.3"/><line x1="60" y1="154.5" x2="66" y2="154.5" stroke="#000" stroke-width="1.3"/><line x1="358.5" y1="290" x2="358.5" y2="296" stroke="#000" stroke-width="1.3"/><line x1="60" y1="91.5" x2="66" y2="91.5" stroke="#000" stroke-width="1.3"/><line x1="499.5" y1="290" x2="499.5" y2="296" stroke="#000" stroke-width="1.3"/><line x1="60" y1="28.5" x2="66" y2="28.5" stroke="#000" stroke-width="1.3"/><line x1="640.5" y1="290" x2="640.5" y2="296" stroke="#000" stroke-width="1.3"/><text transform="translate(76.7,316.3) scale(0.88,1)" font-size="17.5" letter-spacing="0.3" text-anchor="middle">0.00</text><text transform="translate(51.5,281.3) rotate(-90) scale(0.88,1)" font-size="17.5" letter-spacing="0.3" text-anchor="middle">0.00</text><text transform="translate(217.32,316.3) scale(0.88,1)" font-size="17.5" letter-spacing="0.3" text-anchor="middle">0.25</text><text transform="translate(51.5,218.3) rotate(-90) scale(0.88,1)" font-size="17.5" letter-spacing="0.3" text-anchor="middle">0.25</text><text transform="translate(357.95,316.3) scale(0.88,1)" font-size="17.5" letter-spacing="0.3" text-anchor="middle">0.50</text><text transform="translate(51.5,155.3) rotate(-90) scale(0.88,1)" font-size="17.5" letter-spacing="0.3" text-anchor="middle">0.50</text><text transform="translate(498.57,316.3) scale(0.88,1)" font-size="17.5" letter-spacing="0.3" text-anchor="middle">0.75</text><text transform="translate(51.5,92.3) rotate(-90) scale(0.88,1)" font-size="17.5" letter-spacing="0.3" text-anchor="middle">0.75</text><text transform="translate(639.2,316.3) scale(0.88,1)" font-size="17.5" letter-spacing="0.3" text-anchor="middle">1.00</text><text transform="translate(51.5,29.3) rotate(-90) scale(0.88,1)" font-size="17.5" letter-spacing="0.3" text-anchor="middle">1.00</text><text transform="translate(357,328.4) scale(1.0,1)" font-size="16" letter-spacing="0.1" text-anchor="middle">1-Specificity</text><text transform="translate(33.5,154.6) rotate(-90) scale(0.93,1)" font-size="17.5" letter-spacing="0.3" text-anchor="middle">Sensitivity</text><rect x="86.5" y="342.2" width="543.7" height="95.6" fill="#FFFFFF" stroke="#000" stroke-width="1.3"/><line x1="92" y1="356.8" x2="156" y2="356.8" stroke="#12227A" stroke-width="1.4"/><path d="M123.5,353.2 L127.1,356.8 L123.5,360.4 L119.9,356.8Z" fill="#162E96" stroke="#0E1C70" stroke-width="0.7"/><text transform="translate(166,362.6) scale(0.9,1)" font-size="17.5" letter-spacing="0.3" text-anchor="start">pct ROC area: 0.7421</text><line x1="365" y1="356.8" x2="429" y2="356.8" stroke="#701434" stroke-width="1.4"/><path d="M396.5,353.2 L400.1,356.8 L396.5,360.4 L392.9,356.8Z" fill="#7E1638" stroke="#62102C" stroke-width="0.7"/><text transform="translate(440,362.6) scale(0.9,1)" font-size="17.5" letter-spacing="0.3" text-anchor="start">lbp ROC area: 0.597</text><line x1="92" y1="379.1" x2="156" y2="379.1" stroke="#367C12" stroke-width="1.4"/><path d="M123.5,375.5 L127.1,379.1 L123.5,382.7 L119.9,379.1Z" fill="#3C8C10" stroke="#2E6C0E" stroke-width="0.7"/><text transform="translate(166,384.9) scale(0.9,1)" font-size="17.5" letter-spacing="0.3" text-anchor="start">crp ROC area: 0.6853</text><line x1="365" y1="379.1" x2="429" y2="379.1" stroke="#D86614" stroke-width="1.4"/><path d="M396.5,375.5 L400.1,379.1 L396.5,382.7 L392.9,379.1Z" fill="#EE6E0E" stroke="#C85A12" stroke-width="0.7"/><text transform="translate(440,384.9) scale(0.9,1)" font-size="17.5" letter-spacing="0.3" text-anchor="start">il6 ROC area: 0.6521</text><line x1="92" y1="401.4" x2="156" y2="401.4" stroke="#4C9070" stroke-width="1.4"/><path d="M123.5,397.8 L127.1,401.4 L123.5,405 L119.9,401.4Z" fill="#5AA27C" stroke="#3E8262" stroke-width="0.7"/><text transform="translate(166,407.2) scale(0.9,1)" font-size="17.5" letter-spacing="0.3" text-anchor="start">wbc ROC area: 0.4126</text><line x1="365" y1="401.4" x2="429" y2="401.4" stroke="#BC0C30" stroke-width="1.4"/><path d="M396.5,397.8 L400.1,401.4 L396.5,405 L392.9,401.4Z" fill="#D00A34" stroke="#A80A2A" stroke-width="0.7"/><text transform="translate(440,407.2) scale(0.9,1)" font-size="17.5" letter-spacing="0.3" text-anchor="start">neutro ROC area: 0.455</text><line x1="92" y1="423.9" x2="156" y2="423.9" stroke="#4A8064" stroke-width="2"/><text transform="translate(166,429.5) scale(0.9,1)" font-size="17.5" letter-spacing="0.3" text-anchor="start">Reference</text></svg>
</body></html>
